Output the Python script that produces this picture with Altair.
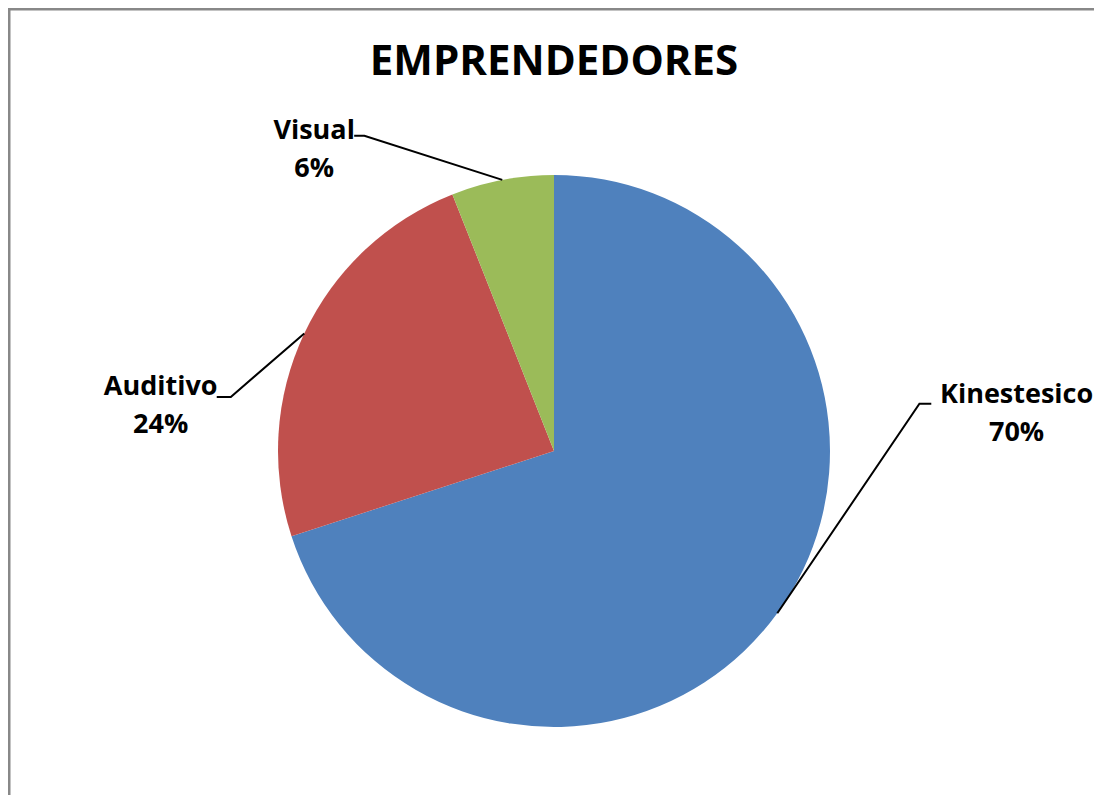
import math
import altair as alt
import pandas as pd

# ---- data ----
categories = ["Kinestesico", "Auditivo", "Visual"]
values = [70, 24, 6]
colors = ["#4F81BD", "#C0504D", "#9BBB59"]
title_text = "EMPRENDEDORES"

# ---- layout (pixel geometry of the chart) ----
W, H = 1086, 787
CX, CY, R = 546, 443, 276          # pie centre / radius in chart pixels
# label elbow / end / first-line text centre, in pie-radius units (u right, v up)
elbow = [(1.324, 0.171), (-1.171, 0.196), (-0.687, 1.142)]
elbow_end = [(1.367, 0.171), (-1.222, 0.196), (-0.724, 1.142)]
text_pos = [(1.676, 0.204), (-1.425, 0.233), (-0.869, 1.160)]

total = sum(values)
pie = pd.DataFrame({"cat": categories, "value": values, "order": list(range(len(values)))})
pie["label"] = [f"{c}\n{round(v / total * 100)}%" for c, v in zip(categories, values)]

# leader lines: start at slice mid-angle on the rim
rows = []
cum = 0
for i, (c, v) in enumerate(zip(categories, values)):
    mid = (cum + v / 2) / total * 2 * math.pi
    cum += v
    su, sv = math.sin(mid), math.cos(mid)
    for k, (u, w) in enumerate([(su, sv), elbow[i], elbow_end[i]]):
        rows.append({"cat": c, "k": k, "u": u, "v": w})
lines = pd.DataFrame(rows)
pie["tu"] = [p[0] for p in text_pos]
pie["tv"] = [p[1] for p in text_pos]

xs = alt.Scale(domain=[-CX / R, (W - CX) / R], nice=False, zero=False)
ys = alt.Scale(domain=[(CY - H) / R, CY / R], nice=False, zero=False)

arcs = alt.Chart(pie).mark_arc(radius=R).encode(
    theta=alt.Theta("value:Q", stack=True),
    order=alt.Order("order:Q"),
    color=alt.Color("cat:N", scale=alt.Scale(domain=categories, range=colors), legend=None),
    x=alt.value(CX),
    y=alt.value(CY),
)

leaders = alt.Chart(lines).mark_line(color="black", strokeWidth=2).encode(
    x=alt.X("u:Q", scale=xs, axis=None),
    y=alt.Y("v:Q", scale=ys, axis=None),
    detail="cat:N",
    order="k:Q",
)

labels = alt.Chart(pie).mark_text(
    font="Open Sans", fontWeight="bold", fontSize=27, lineBreak="\n", lineHeight=38,
    align="center", baseline="middle", color="black",
).encode(
    x=alt.X("tu:Q", scale=xs, axis=None),
    y=alt.Y("tv:Q", scale=ys, axis=None),
    text="label:N",
)

title = alt.Chart(pd.DataFrame({"t": [title_text]})).mark_text(
    font="Open Sans", fontWeight="bold", fontSize=42, align="center", baseline="middle", color="black",
).encode(x=alt.value(CX), y=alt.value(54), text="t:N")

border_top = alt.Chart(pd.DataFrame({"a": [0]})).mark_rule(color="#888888", strokeWidth=3).encode(
    x=alt.value(0), x2=alt.value(W), y=alt.value(1))
border_left = alt.Chart(pd.DataFrame({"a": [0]})).mark_rule(color="#888888", strokeWidth=3).encode(
    x=alt.value(1), y=alt.value(0), y2=alt.value(H))

chart = alt.layer(arcs, leaders, labels, title, border_top, border_left).properties(
    width=W, height=H, padding=0, autosize=alt.AutoSizeParams(type="none"),
).configure_view(stroke=None)

chart.save("out.html", embed_options={"renderer": "svg", "actions": False})
